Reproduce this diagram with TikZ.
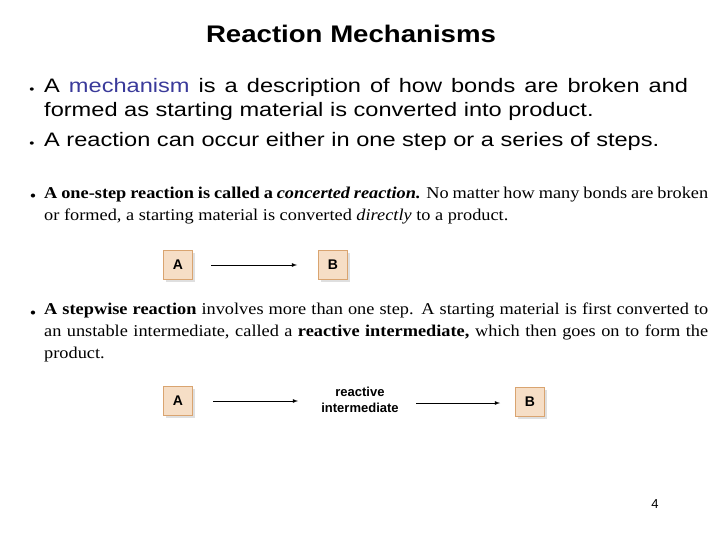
\documentclass[tikz,border=0pt]{standalone}
\usepackage{fontspec}
\setmainfont{Liberation Serif}[FakeStretch=1.11]
\setsansfont{Liberation Sans}
\newfontfamily\bodysans{Liberation Sans}[FakeStretch=1.21]
\newfontfamily\titlesans{Liberation Sans}[FakeStretch=1.15]
\usetikzlibrary{shadows}
\definecolor{boxfill}{HTML}{F6DEC6}
\definecolor{boxline}{HTML}{D9A470}
\definecolor{mech}{HTML}{3A3A9A}
\begin{document}
\begin{tikzpicture}[x=1pt,y=-1pt,
  box/.style={draw=boxline,fill=boxfill,line width=1.5pt,minimum width=29pt,minimum height=29pt,inner sep=0pt,font=\sffamily\bfseries\fontsize{14}{16}\selectfont,drop shadow={shadow xshift=2pt,shadow yshift=-2pt,fill=black!25}},
  arr/.style={-latex,line width=0.8pt},
  sanstext/.style={anchor=north west,inner sep=0pt,font=\bodysans\fontsize{19.5}{24}\selectfont,align=justify},
  sertext/.style={anchor=north west,inner sep=0pt,font=\fontsize{16.5}{22}\selectfont,align=justify}]
\useasboundingbox (0,0) rectangle (720,540);
\node[font=\titlesans\bfseries\fontsize{24}{28}\selectfont] (title) at (351,34) {Reaction Mechanisms};
\node[sanstext,text width=644pt] (b1) at (44,78) {\noindent A {\color{mech}mechanism} is a description of how bonds are broken and\linebreak formed as starting material is converted into product.};
\node[sanstext,text width=650pt] (b2) at (44,132) {\noindent A reaction can occur either in one step or a series of steps.};
\node[anchor=base,font=\bodysans\fontsize{12}{14}\selectfont] (d1) at (32,94) {•};
\node[anchor=base,font=\bodysans\fontsize{12}{14}\selectfont] (d2) at (32,148) {•};
\node[sertext,text width=664pt] (s1) at (44,187) {\noindent\textbf{A one-step reaction is called a \textit{concerted reaction.}} No matter how many bonds are broken\linebreak or formed, a starting material is converted \textit{directly} to a product.};
\node[anchor=base,font=\fontsize{16.5}{22}\selectfont] (d3) at (33,202) {\textbullet};
\node[sertext,text width=664pt] (s2) at (44,303) {\noindent\textbf{A stepwise reaction} involves more than one step. A starting material is first converted to\linebreak an unstable intermediate, called a \textbf{reactive intermediate,} which then goes on to form the\linebreak product.};
\node[anchor=base,font=\fontsize{16.5}{22}\selectfont] (d4) at (33,318) {\textbullet};
\node[box] (a1) at (178,265) {A};
\node[box] (bb1) at (333,265) {B};
\draw[arr] (211,265) -- (297,265);
\node[box] (a2) at (178,401) {A};
\node[font=\sffamily\bfseries\fontsize{13}{16}\selectfont,align=center] (ri) at (360,400) {reactive\\intermediate};
\node[box] (bb2) at (530,402) {B};
\draw[arr] (213,401) -- (298,401);
\draw[arr] (416,403) -- (500,403);
\node[font=\sffamily\fontsize{13}{15}\selectfont] (pg) at (655,504) {4};
\end{tikzpicture}
\end{document}
